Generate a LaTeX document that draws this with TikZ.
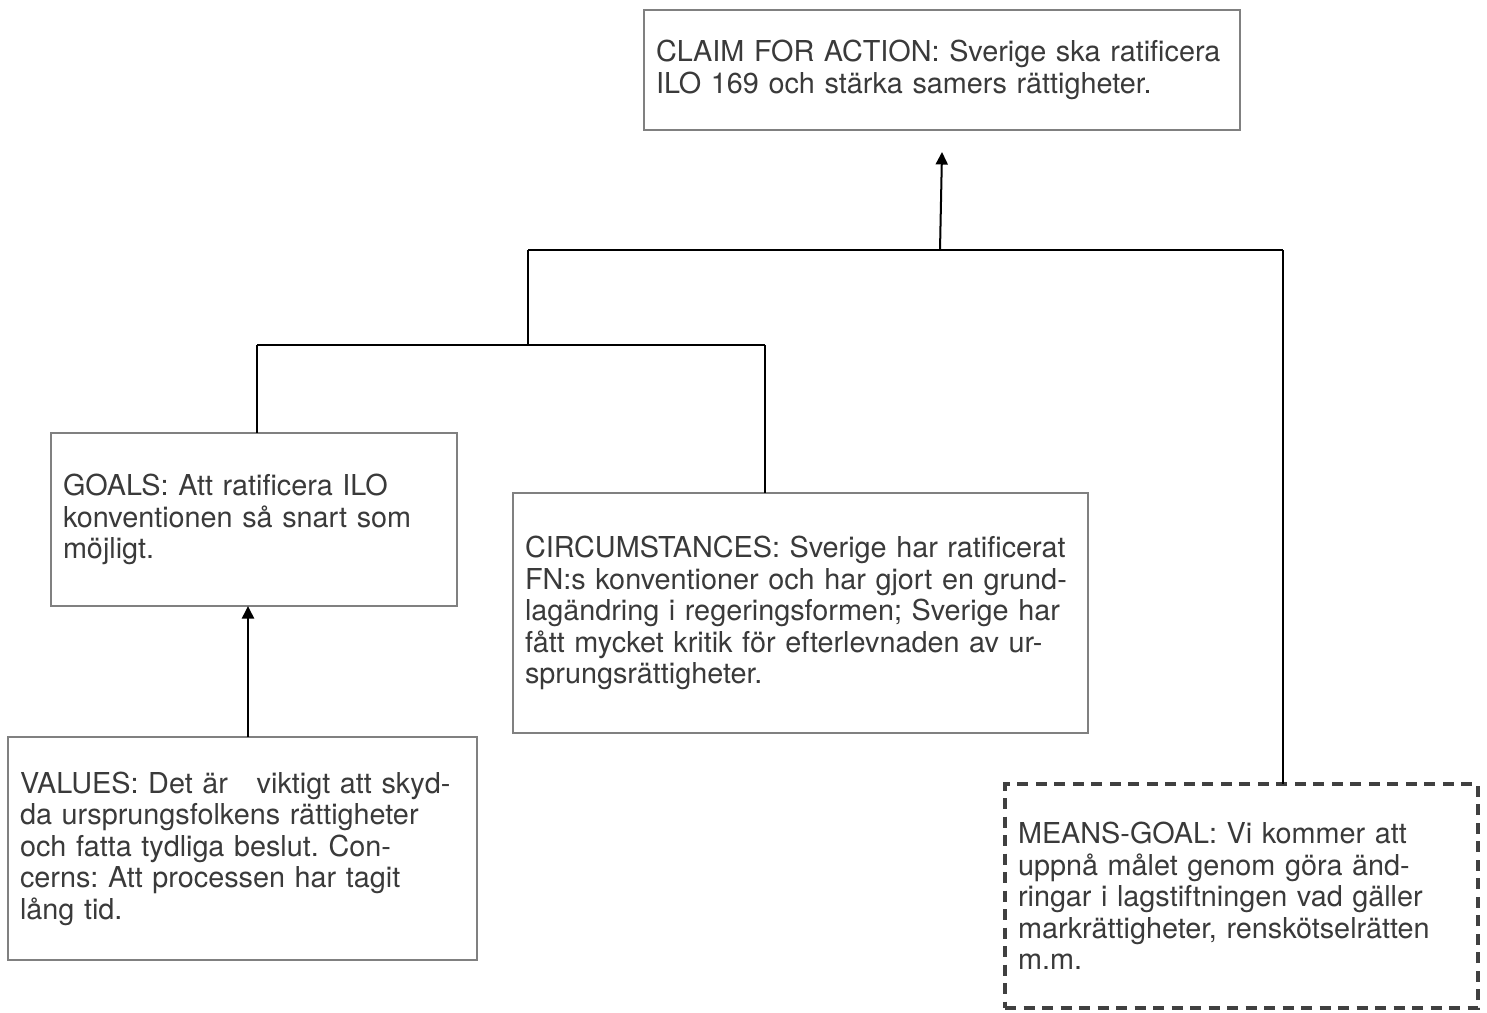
\documentclass[tikz,border=0pt]{standalone}
\usepackage{fontspec}
\setmainfont{TeX Gyre Heros}
\usetikzlibrary{arrows.meta,positioning}
\definecolor{txtgray}{HTML}{3A3A3A}
\definecolor{boxgray}{HTML}{808080}
\definecolor{dashgray}{HTML}{404040}
\frenchspacing
\newcommand{\myline}[1]{\mbox{#1}}
\begin{document}
\begin{tikzpicture}[x=1pt,y=-1pt,
  box/.style={draw=boxgray, line width=2pt, anchor=north west, inner xsep=12pt, inner ysep=0pt,
    outer sep=0pt, align=left, text=txtgray, font=\fontsize{28.8}{31.5}\selectfont},
  dashbox/.style={box, draw=dashgray, line width=4.5pt, dash pattern=on 11pt off 7.5pt},
  conn/.style={draw=black, line width=2pt},
  arr/.style={conn, -{Triangle[length=12.5pt,width=12pt]}}]
\fill[white] (0,0) rectangle (1487,1012);
\useasboundingbox (0,0) rectangle (1487,1012);

\node[box, minimum width=596pt, minimum height=120pt, text width=572pt] (claim) at (644,10)
  {\myline{CLAIM FOR ACTION: Sverige ska ratificera}\\\myline{ILO 169 och stärka samers rättigheter.}};
\node[box, minimum width=406pt, minimum height=173pt, text width=382pt] (goals) at (51,433)
  {\myline{GOALS: Att ratificera ILO}\\\myline{konventionen så snart som}\\\myline{möjligt.}};
\node[box, minimum width=575pt, minimum height=240pt, text width=551pt] (circ) at (513,493)
  {\myline{CIRCUMSTANCES: Sverige har ratificerat}\\\myline{FN:s konventioner och har gjort en grund-}\\\myline{lagändring i regeringsformen; Sverige har}\\\myline{fått mycket kritik för efterlevnaden av ur-}\\\myline{sprungsrättigheter.}};
\node[box, minimum width=469pt, minimum height=223pt, text width=445pt] (values) at (8,737)
  {\myline{VALUES: Det är\ \ \ viktigt att skyd-}\\\myline{da ursprungsfolkens rättigheter}\\\myline{och fatta tydliga beslut. Con-}\\\myline{cerns: Att processen har tagit}\\\myline{lång tid.}};
\node[dashbox, minimum width=471pt, minimum height=224pt, text width=447pt, inner xsep=13pt] (means) at (1005,784)
  {\myline{MEANS-GOAL: Vi kommer att}\\\myline{uppnå målet genom göra änd-}\\\myline{ringar i lagstiftningen vad gäller}\\\myline{markrättigheter, renskötselrätten}\\\myline{m.m.}};

\coordinate (jtop) at (940,250);
\coordinate (jL) at (528,250);
\coordinate (jR) at (1283,250);
\coordinate (jmid) at (528,345);
\coordinate (jG) at (257,345);
\coordinate (jC) at (765,345);
\coordinate (va) at (248,0);

\draw[arr] (jtop) -- ([yshift=-22pt]claim.south);
\draw[conn] (jL) -- (jR);
\draw[conn] (jL) -- (jmid);
\draw[conn] (jR) -- (jR |- means.north);
\draw[conn] (jG) -- (jC);
\draw[conn] (jG) -- (jG |- goals.north);
\draw[conn] (jC) -- (jC |- circ.north);
\draw[arr] (va |- values.north) -- (va |- goals.south);
\end{tikzpicture}
\end{document}
